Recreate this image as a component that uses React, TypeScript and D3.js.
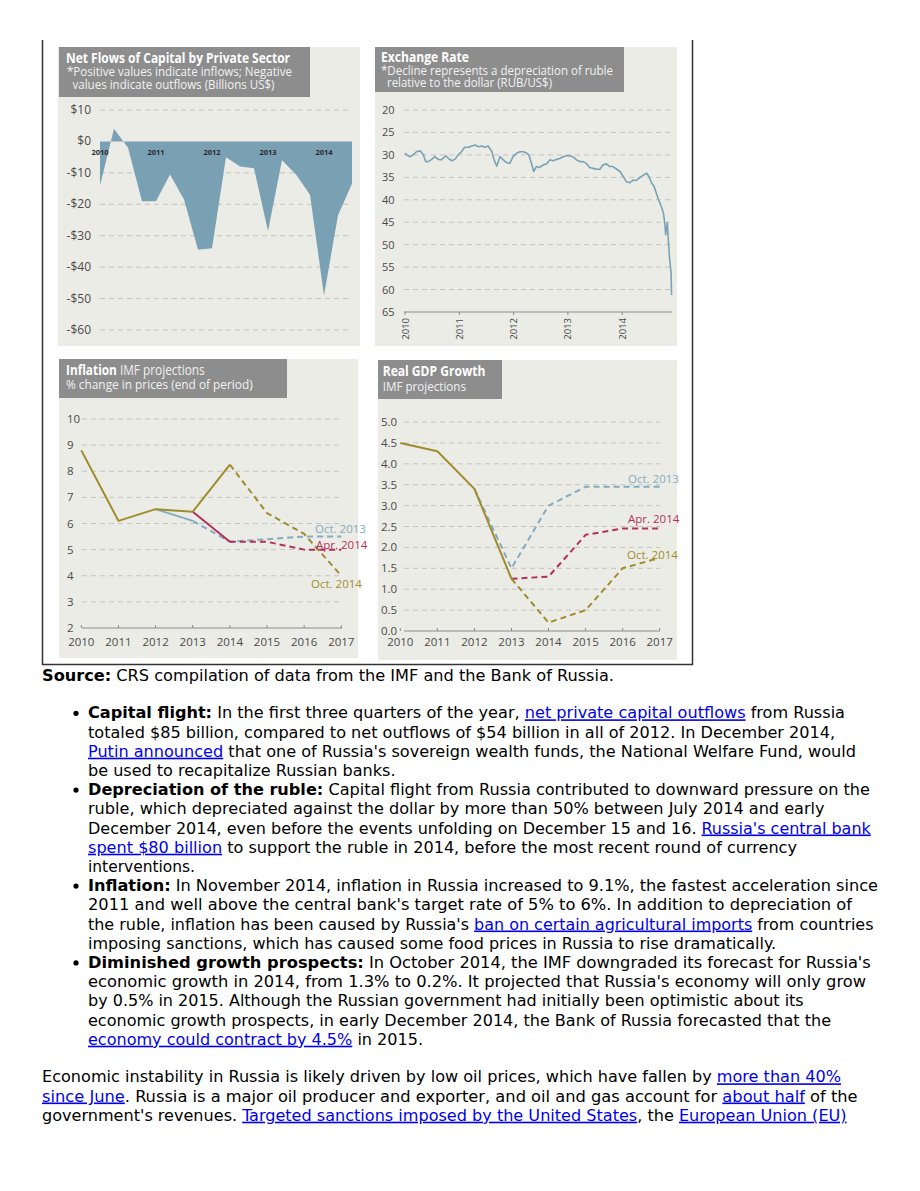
import * as d3 from "d3";

// ---------- data ----------
// net private capital flows, quarterly 2010Q1 .. 2014Q3 (billions US$)
const flowQuarters = [
  "2010Q1", "2010Q2", "2010Q3", "2010Q4",
  "2011Q1", "2011Q2", "2011Q3", "2011Q4",
  "2012Q1", "2012Q2", "2012Q3", "2012Q4",
  "2013Q1", "2013Q2", "2013Q3", "2013Q4",
  "2014Q1", "2014Q2", "2014Q3",
];
const flowValues = [-14, 4, -2, -19, -19, -10.5, -18.5, -34.5, -34, -5, -8, -8.5, -28.5, -6, -10.5, -17, -49, -23.5, -13.5];
const flowYears = ["2010", "2011", "2012", "2013", "2014"];
const flowTicks = [10, 0, -10, -20, -30, -40, -50, -60];

// RUB per US$
const rateDates = [
  2010.0, 2010.03, 2010.09, 2010.15, 2010.21, 2010.28, 2010.34, 2010.38, 2010.43, 2010.49,
  2010.55, 2010.61, 2010.67, 2010.75, 2010.8, 2010.86, 2010.92, 2010.98, 2011.04, 2011.1,
  2011.17, 2011.23, 2011.29, 2011.35, 2011.41, 2011.47, 2011.53, 2011.6, 2011.64, 2011.69,
  2011.75, 2011.81, 2011.87, 2011.93, 2011.99, 2012.06, 2012.12, 2012.18, 2012.24, 2012.28,
  2012.33, 2012.37, 2012.42, 2012.48, 2012.55, 2012.61, 2012.67, 2012.73, 2012.79, 2012.85,
  2012.91, 2012.98, 2013.04, 2013.1, 2013.16, 2013.22, 2013.28, 2013.34, 2013.4, 2013.47,
  2013.53, 2013.59, 2013.65, 2013.71, 2013.77, 2013.83, 2013.9, 2013.96, 2014.02, 2014.08,
  2014.14, 2014.2, 2014.26, 2014.33, 2014.39, 2014.45, 2014.49, 2014.54, 2014.59, 2014.63,
  2014.67, 2014.72, 2014.76, 2014.79, 2014.8, 2014.83, 2014.85, 2014.87, 2014.9, 2014.91,
];
const rateValues = [
  29.6, 30.0, 30.4, 30.0, 29.3, 29.1, 30.0, 31.5, 31.5, 31.0,
  30.4, 31.0, 31.1, 30.2, 30.8, 31.3, 31.0, 30.0, 29.3, 28.3,
  28.3, 28.0, 27.8, 28.2, 28.0, 28.3, 28.0, 29.3, 31.1, 32.5,
  30.4, 31.1, 31.7, 31.9, 30.4, 29.6, 29.3, 29.3, 29.6, 30.0,
  31.9, 33.7, 32.6, 32.8, 32.2, 32.0, 31.1, 31.3, 31.0, 30.8,
  30.4, 30.2, 30.2, 30.5, 31.1, 31.5, 31.5, 31.9, 32.8, 33.0,
  33.2, 33.2, 32.2, 32.0, 32.6, 32.6, 33.2, 33.7, 34.8, 36.0,
  36.2, 35.6, 35.7, 35.0, 34.5, 34.1, 34.8, 36.2, 37.1, 38.6,
  40.0, 41.5, 43.0, 46.0, 47.8, 45.1, 49.0, 52.7, 56.4, 61.2,
];
const rateTicks = [20, 25, 30, 35, 40, 45, 50, 55, 60, 65];
const rateYears = [2010, 2011, 2012, 2013, 2014];

const projYears = [2010, 2011, 2012, 2013, 2014, 2015, 2016, 2017];

// inflation, % change in prices (end of period)
const inflOct2014 = [8.8, 6.1, 6.55, 6.45, 8.25, 6.4, 5.6, 4.0]; // 2010..2017
const inflApr2014 = [6.45, 5.3, 5.3, 5.0, 5.0]; // 2013..2017
const inflOct2013 = [6.55, 6.1, 5.3, 5.4, 5.5, 5.5]; // 2012..2017
const inflTicks = [2, 3, 4, 5, 6, 7, 8, 9, 10];

// real GDP growth
const gdpOct2014 = [4.5, 4.3, 3.4, 1.25, 0.2, 0.5, 1.5, 1.75]; // 2010..2017
const gdpApr2014 = [1.25, 1.3, 2.3, 2.45, 2.45]; // 2013..2017
const gdpOct2013 = [3.4, 1.5, 3.0, 3.45, 3.45, 3.45]; // 2012..2017
const gdpTicks = [0, 0.5, 1, 1.5, 2, 2.5, 3, 3.5, 4, 4.5, 5];

// ---------- style ----------
const PANEL_BG = "#ecece6";
const TITLE_BG = "#8d8d8d";
const GRID = "#c4c4bf";
const TICK_TXT = "#4a4a4a";
const AREA = "#7aa0b4";
const BLUE = "#84abc2";
const RED = "#b3305c";
const GOLD = "#9f8c2e";
const CHART_FONT = "'Open Sans', 'Noto Sans', sans-serif";
const BODY_FONT = "'DejaVu Sans Condensed', 'DejaVu Sans', Verdana, sans-serif";

const Panel = ({ x, y, w, h, bx, bw, bh }) => (
  <g>
    <rect x={x} y={y} width={w} height={h} fill={PANEL_BG} />
    <rect x={bx} y={y} width={bw} height={bh} fill={TITLE_BG} />
  </g>
);

const TitleText = ({ x, y, len, size, children, weight = 400, fill = "#f2f2f2" }) => (
  <text
    x={x}
    y={y}
    fontSize={size}
    fontWeight={weight}
    fill={fill}
    fontFamily={CHART_FONT}
    textLength={len}
    lengthAdjust="spacingAndGlyphs"
  >
    {children}
  </text>
);

const FlowsChart = () => {
  const x = d3.scaleLinear().domain([0, flowQuarters.length - 1]).range([100, 352]);
  const y = d3.scaleLinear().domain([10, -60]).range([110, 330]);
  const area = d3
    .area<number>()
    .x((d, i) => x(i))
    .y0(y(0))
    .y1((d) => y(d));
  return (
    <g fontFamily={CHART_FONT}>
      {flowTicks.map((t) => (
        <g key={t}>
          {t !== 0 && (
            <line x1={100} x2={349} y1={y(t)} y2={y(t)} stroke={GRID} strokeDasharray="5,4" />
          )}
          <text x={91} y={y(t) + 4} textAnchor="end" fontSize={12} fill={TICK_TXT}>
            {t < 0 ? `-$${-t}` : `$${t}`}
          </text>
        </g>
      ))}
      <path d={area(flowValues)} fill={AREA} />
      {flowYears.map((yr, i) => (
        <text key={yr} x={x(i * 4)} y={155} textAnchor="middle" fontSize={7.5} fontWeight={700} fill="#2b2b2b">
          {yr}
        </text>
      ))}
    </g>
  );
};

const RateChart = () => {
  const x = d3.scaleLinear().domain([2010, 2015]).range([405, 676.5]);
  const y = d3.scaleLinear().domain([20, 65]).range([110, 312]);
  const line = d3
    .line<number>()
    .x((d, i) => x(rateDates[i]))
    .y((d) => y(d));
  return (
    <g fontFamily={CHART_FONT}>
      {rateTicks.map((t) => (
        <g key={t}>
          {t !== 65 && (
            <line x1={404} x2={672} y1={y(t)} y2={y(t)} stroke={GRID} strokeDasharray="5,4" />
          )}
          <text x={382} y={y(t) + 4} fontSize={11} fill={TICK_TXT}>
            {t}
          </text>
        </g>
      ))}
      <line x1={404} x2={672} y1={y(65)} y2={y(65)} stroke="#8a8a8a" strokeWidth={1} />
      {rateYears.map((yr) => (
        <g key={yr}>
          <line x1={x(yr)} x2={x(yr)} y1={y(65)} y2={y(65) + 3} stroke="#8a8a8a" />
          <text
            transform={`translate(${x(yr) + 3.5},318) rotate(-90)`}
            textAnchor="end"
            fontSize={9.5}
            fill={TICK_TXT}
          >
            {yr}
          </text>
        </g>
      ))}
      <path d={line(rateValues)} fill="none" stroke="#79a2b7" strokeWidth={1.6} strokeLinejoin="round" />
    </g>
  );
};

// draws a series; solid up to index `solidTo`, dashed after it
const Series = ({ x, y, years, values, solidTo, color }) => {
  const pts = years.map((yr, i) => [x(yr), y(values[i])] as [number, number]);
  const line = d3.line();
  const solid = pts.slice(0, solidTo + 1);
  const dashed = pts.slice(Math.max(solidTo, 0));
  return (
    <g fill="none" stroke={color} strokeWidth={2} strokeLinejoin="round">
      {solid.length > 1 && <path d={line(solid)} />}
      {dashed.length > 1 && <path d={line(dashed)} strokeDasharray="6,4" />}
    </g>
  );
};

const ProjChart = ({ x0, x1, yTop, yBot, domain, ticks, fmt, labelX, gridX1, gridX2, children }) => {
  const x = d3.scaleLinear().domain([2010, 2017]).range([x0, x1]);
  const y = d3.scaleLinear().domain(domain).range([yBot, yTop]);
  return (
    <g fontFamily={CHART_FONT}>
      {ticks.map((t, i) => (
        <g key={t}>
          {i > 0 && <line x1={gridX1} x2={gridX2} y1={y(t)} y2={y(t)} stroke={GRID} strokeDasharray="5,4" />}
          <text x={labelX} y={y(t) + 4} fontSize={11.5} fill={TICK_TXT}>
            {fmt(t)}
          </text>
        </g>
      ))}
      <line x1={gridX1} x2={gridX2} y1={y(domain[0])} y2={y(domain[0])} stroke="#8a8a8a" />
      {projYears.map((yr) => (
        <g key={yr}>
          <line x1={x(yr)} x2={x(yr)} y1={y(domain[0])} y2={y(domain[0]) - 3} stroke="#8a8a8a" />
          <text x={x(yr)} y={646} textAnchor="middle" fontSize={11.5} fill={TICK_TXT}>
            {yr}
          </text>
        </g>
      ))}
      {children(x, y)}
    </g>
  );
};

// ---------- text below the figure ----------
type Seg = [string, "n" | "b" | "a"];
const bodyLines: { x: number; y: number; end: number; bullet?: boolean; segs: Seg[] }[] = [
  { x: 42, y: 680.7, end: 614, segs: [["Source:", "b"], [" CRS compilation of data from the IMF and the Bank of Russia.", "n"]] },
  {
    x: 88, y: 718.3, end: 845, bullet: true,
    segs: [["Capital flight:", "b"], [" In the first three quarters of the year, ", "n"], ["net private capital outflows", "a"], [" from Russia", "n"]],
  },
  { x: 88, y: 737.5, end: 835, segs: [["totaled $85 billion, compared to net outflows of $54 billion in all of 2012. In December 2014,", "n"]] },
  { x: 88, y: 756.7, end: 856, segs: [["Putin announced", "a"], [" that one of Russia's sovereign wealth funds, the National Welfare Fund, would", "n"]] },
  { x: 88, y: 775.9, end: 395.5, segs: [["be used to recapitalize Russian banks.", "n"]] },
  {
    x: 88, y: 795.1, end: 870, bullet: true,
    segs: [["Depreciation of the ruble:", "b"], [" Capital flight from Russia contributed to downward pressure on the", "n"]],
  },
  { x: 88, y: 814.3, end: 824.6, segs: [["ruble, which depreciated against the dollar by more than 50% between July 2014 and early", "n"]] },
  { x: 88, y: 833.5, end: 870.8, segs: [["December 2014, even before the events unfolding on December 15 and 16. ", "n"], ["Russia's central bank", "a"]] },
  { x: 88, y: 852.7, end: 797, segs: [["spent $80 billion", "a"], [" to support the ruble in 2014, before the most recent round of currency", "n"]] },
  { x: 88, y: 871.9, end: 195, segs: [["interventions.", "n"]] },
  {
    x: 88, y: 891.1, end: 878, bullet: true,
    segs: [["Inflation:", "b"], [" In November 2014, inflation in Russia increased to 9.1%, the fastest acceleration since", "n"]],
  },
  { x: 88, y: 910.3, end: 852, segs: [["2011 and well above the central bank's target rate of 5% to 6%. In addition to depreciation of", "n"]] },
  { x: 88, y: 929.5, end: 873.5, segs: [["the ruble, inflation has been caused by Russia's ", "n"], ["ban on certain agricultural imports", "a"], [" from countries", "n"]] },
  { x: 88, y: 948.7, end: 776, segs: [["imposing sanctions, which has caused some food prices in Russia to rise dramatically.", "n"]] },
  {
    x: 88, y: 967.9, end: 870.8, bullet: true,
    segs: [["Diminished growth prospects:", "b"], [" In October 2014, the IMF downgraded its forecast for Russia's", "n"]],
  },
  { x: 88, y: 987.1, end: 866, segs: [["economic growth in 2014, from 1.3% to 0.2%. It projected that Russia's economy will only grow", "n"]] },
  { x: 88, y: 1006.3, end: 803.7, segs: [["by 0.5% in 2015. Although the Russian government had initially been optimistic about its", "n"]] },
  { x: 88, y: 1025.5, end: 831, segs: [["economic growth prospects, in early December 2014, the Bank of Russia forecasted that the", "n"]] },
  { x: 88, y: 1044.7, end: 423, segs: [["economy could contract by 4.5%", "a"], [" in 2015.", "n"]] },
  { x: 42, y: 1082.3, end: 841, segs: [["Economic instability in Russia is likely driven by low oil prices, which have fallen by ", "n"], ["more than 40%", "a"]] },
  { x: 42, y: 1101.5, end: 857.6, segs: [["since June", "a"], [". Russia is a major oil producer and exporter, and oil and gas account for ", "n"], ["about half", "a"], [" of the", "n"]] },
  { x: 42, y: 1120.7, end: 846.6, segs: [["government's revenues. ", "n"], ["Targeted sanctions imposed by the United States", "a"], [", the ", "n"], ["European Union (EU)", "a"]] },
];

const BodyText = () => (
  <g fontFamily={BODY_FONT} fontSize={16} fill="#000">
    {bodyLines.map((ln, i) => (
      <g key={i}>
        {ln.bullet && <circle cx={76} cy={ln.y - 5} r={2.6} fill="#000" />}
        <text x={ln.x} y={ln.y} textLength={ln.end - ln.x} lengthAdjust="spacingAndGlyphs" xmlSpace="preserve">
          {ln.segs.map(([t, k], j) => (
            <tspan
              key={j}
              fontWeight={k === "b" ? 700 : 400}
              fill={k === "a" ? "#0000ee" : "#000"}
              textDecoration={k === "a" ? "underline" : undefined}
            >
              {t}
            </tspan>
          ))}
        </text>
      </g>
    ))}
  </g>
);

export default function App() {
  return (
    <svg width={904} height={1175} viewBox="8 8 904 1175" style={{ display: "block" }}>
      <rect x={8} y={8} width={904} height={1175} fill="#fff" />
      {/* figure frame */}
      <path d="M42.5,40 V664.5 H692.5 V40" fill="none" stroke="#333" strokeWidth={1.5} />

      {/* panel 1 */}
      <Panel x={58} y={47} w={302} h={299} bx={59} bw={251} bh={50} />
      <TitleText x={66} y={62.5} len={224} size={14} weight={700} fill="#fff">Net Flows of Capital by Private Sector</TitleText>
      <TitleText x={67} y={76} len={225} size={12.5}>*Positive values indicate inflows; Negative</TitleText>
      <TitleText x={72.5} y={88.5} len={202} size={12.5}>values indicate outflows (Billions US$)</TitleText>
      <FlowsChart />

      {/* panel 2 */}
      <Panel x={375} y={47} w={302} h={299} bx={375} bw={249} bh={45} />
      <TitleText x={381} y={61.5} len={88} size={14} weight={700} fill="#fff">Exchange Rate</TitleText>
      <TitleText x={381} y={74.5} len={232} size={12.5}>*Decline represents a depreciation of ruble</TitleText>
      <TitleText x={387} y={87} len={165} size={12.5}>relative to the dollar (RUB/US$)</TitleText>
      <RateChart />

      {/* panel 3 */}
      <Panel x={59} y={359} w={299} h={299} bx={59} bw={228} bh={39} />
      <text x={66} y={375} fontSize={14} fontFamily={CHART_FONT} textLength={138.7} lengthAdjust="spacingAndGlyphs">
        <tspan fontWeight={700} fill="#fff">Inflation</tspan>
        <tspan fill="#f0f0f0"> IMF projections</tspan>
      </text>
      <TitleText x={66} y={389} len={186.7} size={13}>% change in prices (end of period)</TitleText>
      <ProjChart
        x0={81.3}
        x1={341.3}
        yTop={419}
        yBot={628}
        domain={[2, 10]}
        ticks={inflTicks}
        fmt={(t) => `${t}`}
        labelX={67}
        gridX1={82}
        gridX2={342}
      >
        {(x, y) => (
          <g>
            <Series x={x} y={y} years={projYears.slice(2)} values={inflOct2013} solidTo={1} color={BLUE} />
            <Series x={x} y={y} years={projYears.slice(3)} values={inflApr2014} solidTo={1} color={RED} />
            <Series x={x} y={y} years={projYears} values={inflOct2014} solidTo={4} color={GOLD} />
            <g fontSize={11.5}>
              <text x={315} y={533} fill={BLUE}>Oct. 2013</text>
              <text x={316} y={548.5} fill={RED}>Apr. 2014</text>
              <text x={311} y={588} fill={GOLD}>Oct. 2014</text>
            </g>
          </g>
        )}
      </ProjChart>

      {/* panel 4 */}
      <Panel x={378} y={360} w={299} h={300} bx={378} bw={124} bh={39} />
      <TitleText x={382.7} y={376} len={102.7} size={14} weight={700} fill="#fff">Real GDP Growth</TitleText>
      <TitleText x={382.7} y={390.5} len={83.3} size={13}>IMF projections</TitleText>
      <ProjChart
        x0={400.3}
        x1={659.7}
        yTop={422}
        yBot={631}
        domain={[0, 5]}
        ticks={gdpTicks}
        fmt={(t) => t.toFixed(1)}
        labelX={381}
        gridX1={404}
        gridX2={660}
      >
        {(x, y) => (
          <g>
            <Series x={x} y={y} years={projYears.slice(2)} values={gdpOct2013} solidTo={0} color={BLUE} />
            <Series x={x} y={y} years={projYears.slice(3)} values={gdpApr2014} solidTo={0} color={RED} />
            <Series x={x} y={y} years={projYears} values={gdpOct2014} solidTo={3} color={GOLD} />
            <g fontSize={11.5}>
              <text x={628} y={483} fill={BLUE}>Oct. 2013</text>
              <text x={628} y={522.5} fill={RED}>Apr. 2014</text>
              <text x={627} y={559} fill={GOLD}>Oct. 2014</text>
            </g>
          </g>
        )}
      </ProjChart>

      <BodyText />
    </svg>
  );
}
